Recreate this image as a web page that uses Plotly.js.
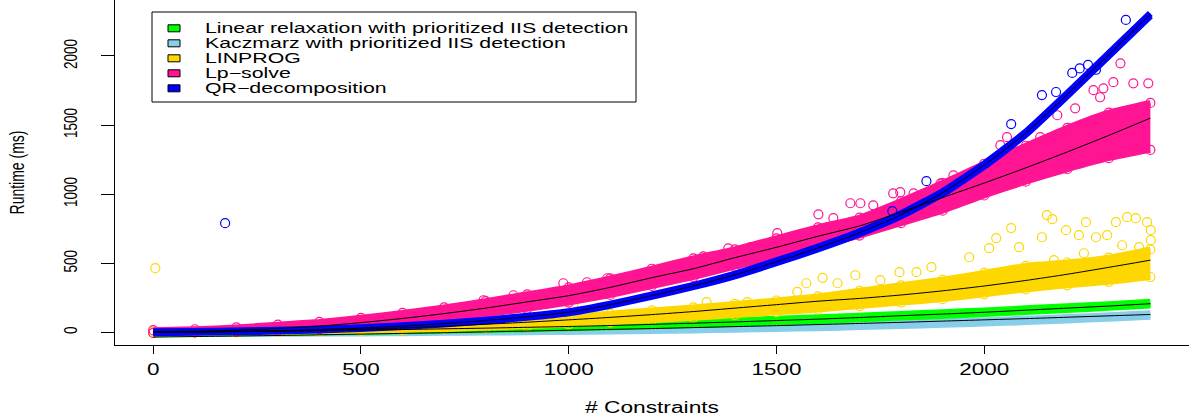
<!DOCTYPE html>
<html><head><meta charset="utf-8">
<script src="https://cdn.plot.ly/plotly-3.0.1.min.js"></script>
<style>html,body{margin:0;padding:0;background:#fff}#chart{width:1189px;height:417px}</style>
</head><body><div id="chart"></div>
<script>
// ---- data ----
const seriesNames = ["Linear relaxation with prioritized IIS detection","Kaczmarz with prioritized IIS detection","LINPROG","Lp\u2212solve","QR\u2212decomposition"];
const seriesColors = ["#00FF00","#87CEEB","#FFD700","#FF1493","#0000FF"];
const xTicks = [0,500,1000,1500,2000];
const yTicks = [0,500,1000,1500,2000];

const xs = [0,100,200,300,400,500,600,700,800,900,1000,1100,1200,1300,1400,1500,1600,1700,1800,1900,2000,2100,2200,2300,2400];

// Linear relaxation (green)
const grnLo = [-6,-3,-1,2,6,10,14,19,24,30,36,43,51,60,69,79,89,101,114,126,139,154,169,184,201];
const grnHi = [6,9,11,14,18,22,26,31,36,42,48,55,63,72,81,91,101,113,126,138,151,166,181,196,213];
const grnFit = [0,3,5,8,12,16,20,25,30,36,42,49,57,66,75,85,95,107,120,132,145,160,175,190,207];
// Kaczmarz (sky blue)
const kacLo = [-5,-5,-4,-3,-2,-1,1,3,5,7,10,13,17,21,26,31,37,45,53,61,70,81,93,106,120];
const kacHi = [5,5,6,7,8,9,11,13,15,17,20,23,27,31,36,41,47,55,63,71,80,91,103,116,130];
const kacFit = [-35,-31,-27,-23,-18,-13,-8,-3,3,9,15,21,27,34,41,48,56,64,72,81,90,99,109,119,129];
// LINPROG (gold)
const linLo = [-5,-3,0,2,6,10,16,24,34,45,58,72,88,105,125,145,165,190,215,240,275,310,340,365,400];
const linHi = [5,8,12,18,25,35,46,60,75,92,112,135,158,180,205,230,260,300,340,380,430,480,505,540,600];
const linFit = [0,1,4,8,14,22,32,44,58,73,90,108,128,150,175,200,225,245,270,300,335,375,420,470,522];
const linOutX = [5,1011,1332,1430,1550,1572,1611,1647,1690,1750,1796,1837,1873,1964,2012,2029,2065,2084,2139,2151,2164,2168,2197,2228,2240,2245,2269,2296,2317,2332,2344,2365,2373,2392,2401,2401];
const linOutY = [464,197,219,219,293,355,394,355,413,377,435,435,471,543,609,681,754,616,688,848,819,522,739,703,572,797,688,703,797,630,833,826,616,797,739,667];
// Lp-solve (deep pink)
const lpLo = [-5,0,5,12,22,40,65,95,130,170,215,270,335,400,475,545,620,700,790,880,990,1090,1180,1260,1320];
const lpHi = [15,22,35,55,75,105,140,180,225,275,325,390,460,535,600,680,760,830,950,1080,1220,1350,1480,1590,1660];
const lpFit = [5,8,15,28,45,70,100,135,175,220,265,325,395,460,540,615,695,770,870,975,1080,1190,1305,1425,1550];
const lpOutX = [795,867,987,1044,1093,1324,1384,1437,1502,1601,1637,1678,1702,1733,1781,1798,1830,1895,1926,2039,2055,2135,2176,2219,2263,2279,2287,2311,2328,2359,2395];
const lpOutY = [232,268,355,362,391,550,608,615,717,854,826,934,934,919,1006,1014,1006,1078,1136,1354,1412,1412,1571,1621,1752,1701,1766,1810,1947,1802,1802];
// QR-decomposition (blue)
const qrLo = [-3,0,4,9,17,27,42,60,82,108,141,196,260,330,409,503,603,713,842,1002,1202,1432,1712,2002,2292];
const qrHi = [3,6,10,15,23,33,48,66,88,116,149,204,270,340,421,517,617,727,858,1018,1218,1448,1728,2018,2308];
const qrFit = [0,3,7,12,20,30,45,63,85,112,145,200,265,335,415,510,610,720,850,1010,1210,1440,1720,2010,2300];
const qrOutX = [173,1779,1861,2065,2139,2173,2212,2230,2250,2269,2341];
const qrOutY = [790,877,1094,1507,1717,1739,1877,1910,1935,1900,2261];

// ---- traces ----
const traces = [];
function band(lo, hi, color, w, edge){
  const a = {x: xs, y: lo, mode:'lines', line:{color: color, width: w, shape:'spline', smoothing:0.5}, showlegend:false, hoverinfo:'skip'};
  const b = {x: xs, y: hi, mode:'lines', fill:'tonexty', fillcolor: color, line:{color: color, width: w, shape:'spline', smoothing:0.5}, showlegend:false, hoverinfo:'skip'};
  if (edge) {
    [a, b].forEach(t => { t.mode = 'lines+markers'; t.marker = {symbol:'circle-open', size:9, color: color, line:{width:1.2, color: color}}; });
  }
  traces.push(a, b);
}
function outl(x, y, color){
  traces.push({x: x, y: y, mode:'markers', marker:{symbol:'circle-open', size:9, color: color, line:{width:1.2, color: color}}, showlegend:false});
}
function fit(y){
  traces.push({x: xs, y: y, mode:'lines', line:{color:'#000', width:1, shape:'spline', smoothing:0.6}, showlegend:false, hoverinfo:'skip'});
}
band(kacLo, kacHi, seriesColors[1], 8, false);
band(grnLo, grnHi, seriesColors[0], 8, false);
band(linLo, linHi, seriesColors[2], 6, true);
outl(linOutX, linOutY, seriesColors[2]);
band(lpLo, lpHi, seriesColors[3], 6, true);
outl(lpOutX, lpOutY, seriesColors[3]);
band(qrLo, qrHi, seriesColors[4], 7, false);
outl(qrOutX, qrOutY, seriesColors[4]);
[grnFit, kacFit, linFit, lpFit, qrFit].forEach(fit);

// ---- manual legend (box, keys, labels) ----
const H = 345, W = 1074, L = 115;
const px2x = p => (p - L) / W;
const py2y = p => 1 - p / H;
const shapes = [{type:'rect', xref:'paper', yref:'paper', x0:px2x(152), x1:px2x(636), y0:py2y(102), y1:py2y(12), line:{color:'#000', width:1}}];
const annotations = [];
seriesNames.forEach((n, i) => {
  const cy = 28.3 + i * 15;
  shapes.push({type:'rect', xref:'paper', yref:'paper', x0:px2x(168), x1:px2x(180), y0:py2y(cy+3.5), y1:py2y(cy-3.5), fillcolor: seriesColors[i], line:{color:'#000', width:1}});
  annotations.push({xref:'paper', yref:'paper', x:px2x(203), y:py2y(cy), xanchor:'left', yanchor:'middle', showarrow:false, text:n, font:{family:'Liberation Sans, Arial, sans-serif', size:14, color:'#000'}});
});

const layout = {
  width:1189, height:417, margin:{l:115, r:0, t:0, b:72},
  paper_bgcolor:'#fff', plot_bgcolor:'#fff', showlegend:false,
  font:{family:'Liberation Sans, Arial, sans-serif', color:'#000'},
  xaxis:{range:[-92,2493], tickvals:xTicks, ticktext:xTicks.map(String), showgrid:false, zeroline:false, showline:true, linecolor:'#000', linewidth:1,
    ticks:'outside', ticklen:8, tickcolor:'#000', tickfont:{size:16}, ticklabelstandoff:2,
    title:{text:'# Constraints', font:{size:16}, standoff:24}},
  yaxis:{range:[-92,2405], tickvals:yTicks, ticktext:yTicks.map(String), showgrid:false, zeroline:false, showline:true, linecolor:'#000', linewidth:1,
    ticks:'outside', ticklen:13, tickcolor:'#000', tickangle:-90, tickfont:{size:13.5}, ticklabelstandoff:20,
    title:{text:'Runtime (ms)', font:{size:14}, standoff:37}},
  shapes: shapes, annotations: annotations
};

// the reference's lettering is drawn wider than tall: widen glyphs horizontally
function stretch(sel, f, shiftLeft){
  document.querySelectorAll(sel).forEach(t => {
    const w = t.getComputedTextLength();
    if (w > 0) {
      t.setAttribute('textLength', (w*f).toFixed(1));
      t.setAttribute('lengthAdjust','spacingAndGlyphs');
      if (shiftLeft) {
        const x0 = parseFloat(t.getAttribute('x') || '0');
        t.setAttribute('x', (x0 + (f-1)*w/2).toFixed(1));
      }
    }
  });
}
function widenRotated(sel, f){
  const svg = document.querySelector('.main-svg');
  document.querySelectorAll(sel).forEach(t => {
    const r = t.getBoundingClientRect();
    const pt = svg.createSVGPoint();
    pt.x = r.x + r.width/2; pt.y = r.y + r.height/2;
    const m = t.parentNode.getScreenCTM().inverse();
    const p = pt.matrixTransform(m);
    const old = t.getAttribute('transform') || '';
    t.setAttribute('transform', `translate(${p.x},${p.y}) scale(${f},1) translate(${-p.x},${-p.y}) ` + old);
  });
}
Plotly.newPlot('chart', traces, layout, {staticPlot:true}).then(() => {
  stretch('.annotation-text', 1.52, true);
  stretch('.xtick text', 1.4, false);
  stretch('.g-xtitle text', 1.42, false);
  widenRotated('.ytick text', 1.4);
  widenRotated('.g-ytitle text', 1.4);
});
</script></body></html>
